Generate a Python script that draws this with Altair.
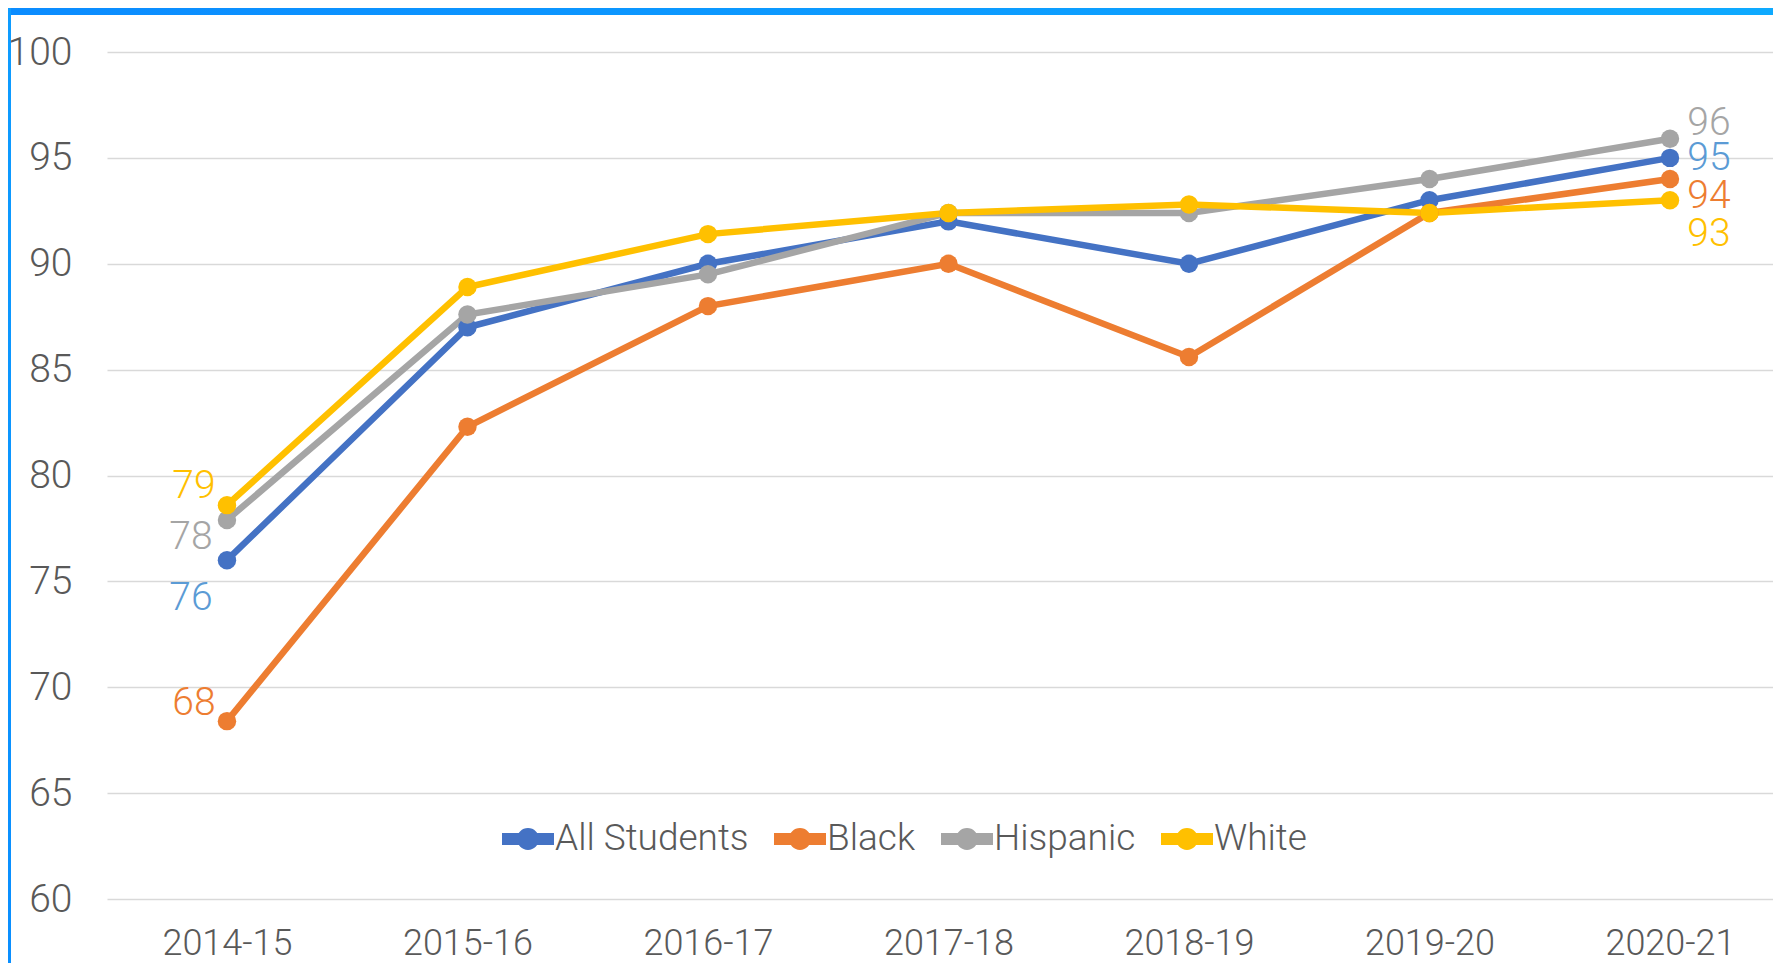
import altair as alt
import pandas as pd

years = ["2014-15", "2015-16", "2016-17", "2017-18", "2018-19", "2019-20", "2020-21"]
series = ["All Students", "Black", "Hispanic", "White"]
all_students = [76.0, 87.0, 90.0, 92.0, 90.0, 93.0, 95.0]
black = [68.4, 82.3, 88.0, 90.0, 85.6, 92.4, 94.0]
hispanic = [77.9, 87.6, 89.5, 92.4, 92.4, 94.0, 95.9]
white = [78.6, 88.9, 91.4, 92.4, 92.8, 92.4, 93.0]
y_ticks = [60, 65, 70, 75, 80, 85, 90, 95, 100]

line_colors = ["#4472C4", "#ED7D31", "#A5A5A5", "#FFC000"]
label_colors = {"All Students": "#5B9BD5", "Black": "#ED7D31", "Hispanic": "#A5A5A5", "White": "#FFC000"}

values = {"All Students": all_students, "Black": black, "Hispanic": hispanic, "White": white}
hexes = dict(zip(series, line_colors))
rows = []
for s in series:
    for y, v in zip(years, values[s]):
        rows.append({"year": y, "series": s, "value": v, "hex": hexes[s]})
df = pd.DataFrame(rows)

FONT = "Roboto"
TXT = "#595959"

W, H = 1666, 847
PAD = {"left": 99, "top": 44, "right": 0, "bottom": 64}

x_enc = alt.X("year:N", sort=years,
              scale=alt.Scale(type="point", padding=0.4636, align=0.538),
              axis=alt.Axis(title=None, domain=False, ticks=False, grid=False,
                            labelFontSize=36, labelColor=TXT, labelFont=FONT,
                            labelFontWeight=300, labelPadding=27, labelAngle=0))
y_enc = alt.Y("value:Q", scale=alt.Scale(domain=[60, 100], nice=False, zero=False),
              axis=alt.Axis(title=None, domain=False, ticks=False, values=y_ticks,
                            labelFontSize=39, labelColor=TXT, labelFont=FONT,
                            labelFontWeight=300, labelPadding=35,
                            gridColor="#D9D9D9", gridWidth=1.5))

base = alt.Chart(df)
lines = base.mark_line(strokeWidth=6.5).encode(
    x=x_enc, y=y_enc,
    stroke=alt.Stroke("hex:N", scale=None),
    detail="series:N",
)
legend_path = ("M-1,-0.23 L1,-0.23 L1,0.23 L-1,0.23 Z "
               "M0.42,0 A0.42,0.42 0 1,1 -0.42,0 A0.42,0.42 0 1,1 0.42,0 Z")
points = base.mark_point(filled=True, size=340, opacity=1, strokeWidth=0).encode(
    x=x_enc, y=y_enc,
    fill=alt.Fill("series:N", scale=alt.Scale(domain=series, range=line_colors), sort=series,
                  legend=alt.Legend(title=None, orient="none", legendX=395, legendY=761,
                                    direction="horizontal", symbolType=legend_path,
                                    symbolSize=2704, symbolStrokeWidth=0, symbolOpacity=1,
                                    labelFont=FONT, labelFontSize=37, labelFontWeight=300,
                                    labelColor=TXT, labelOffset=1, columnPadding=25,
                                    labelLimit=400)),
)

# label placement (series, year, dx, dy)
label_specs = [
    ("White", "2014-15", -33, -19),
    ("Hispanic", "2014-15", -36, 17),
    ("All Students", "2014-15", -36, 38),
    ("Black", "2014-15", -33, -18),
    ("Hispanic", "2020-21", 39, -16),
    ("All Students", "2020-21", 39, 0),
    ("Black", "2020-21", 39, 17),
    ("White", "2020-21", 39, 34),
]
label_layers = []
for s, yr, dx, dy in label_specs:
    label_layers.append(
        base.transform_filter((alt.datum.series == s) & (alt.datum.year == yr))
        .mark_text(dx=dx, dy=dy, fontSize=39, font=FONT, fontWeight=300,
                   color=label_colors[s], align="center", baseline="middle")
        .encode(x=x_enc, y=y_enc, text=alt.Text("value:Q", format=".0f"))
    )

deco = alt.Chart(pd.DataFrame({"a": [0]}))
top_band = deco.mark_rect(color=alt.Gradient(
    gradient="linear", x1=0, x2=1, y1=0, y2=0,
    stops=[alt.GradientStop(offset=0, color="#0B8CFF"),
           alt.GradientStop(offset=1, color="#0EAAFF")])).encode(
    x=alt.value(-PAD["left"]), x2=alt.value(W), y=alt.value(-PAD["top"]), y2=alt.value(-PAD["top"] + 7))
left_band = deco.mark_rect(color=alt.Gradient(
    gradient="linear", x1=0, x2=0, y1=0, y2=1,
    stops=[alt.GradientStop(offset=0, color="#0E9CFF"),
           alt.GradientStop(offset=1, color="#0A8FFF")])).encode(
    x=alt.value(-PAD["left"]), x2=alt.value(-PAD["left"] + 3), y=alt.value(-PAD["top"]),
    y2=alt.value(H + PAD["bottom"]))

chart = alt.layer(lines, points, *label_layers, top_band, left_band).properties(
    width=W, height=H,
    autosize=alt.AutoSizeParams(type="none"),
    padding=PAD,
).configure(background="white").configure_view(stroke=None)

chart.save("out.html", embed_options={"renderer": "svg", "actions": False})
